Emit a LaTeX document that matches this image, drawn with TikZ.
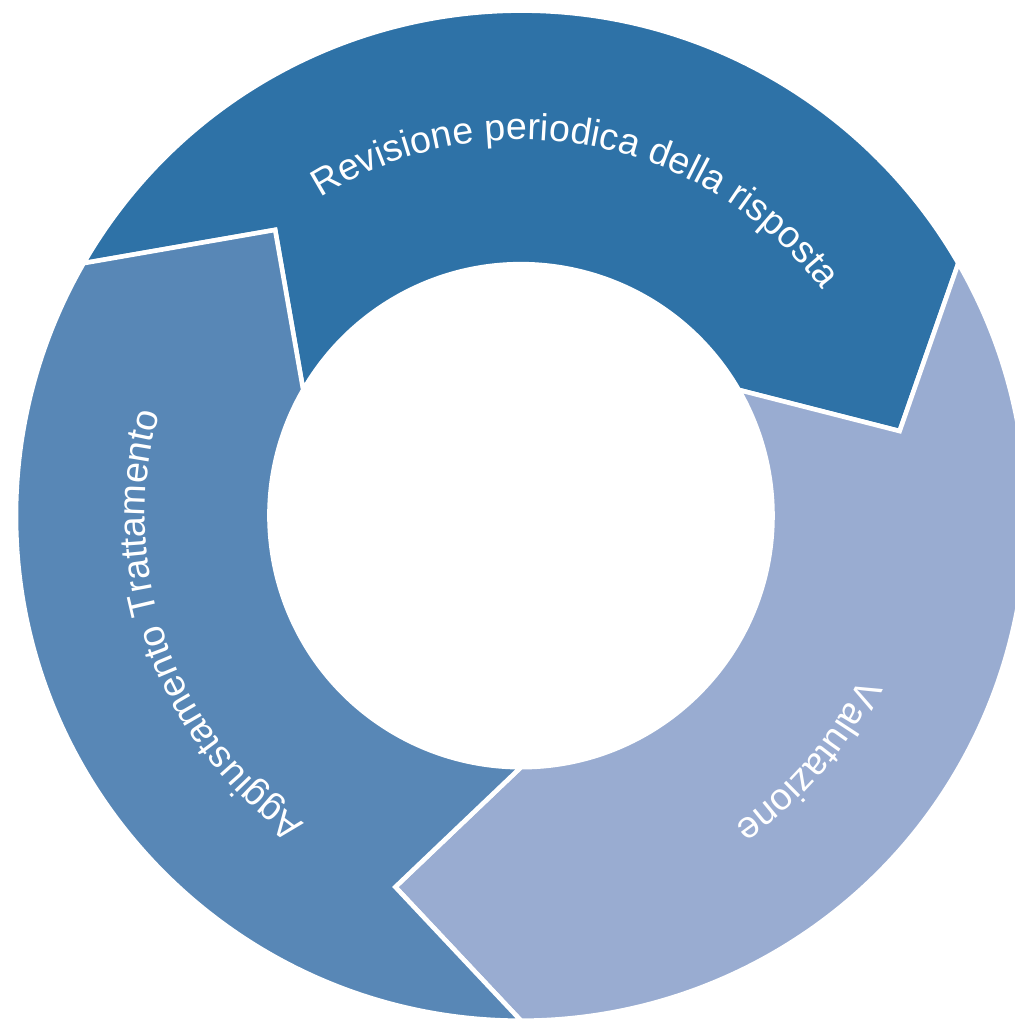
\documentclass[tikz,border=0pt]{standalone}
\usepackage{fontspec}
\setmainfont{Liberation Sans}
\usepackage{tikz}
\usetikzlibrary{decorations.text}

\definecolor{revblue}{RGB}{46,114,167}
\definecolor{valblue}{RGB}{153,172,209}
\definecolor{aggblue}{RGB}{88,135,182}
\newcommand{\segfont}{\fontsize{21.4}{25}\selectfont}

\begin{document}
\begin{tikzpicture}[
    segment/.style={fill=#1, draw=white, line width=2.6pt, line join=miter},
    seglabel/.style={decorate, decoration={text along path, text align=center, text color=white, text={|\segfont|#1}}}
  ]
  \useasboundingbox (-10.42,-10.066) rectangle (9.88,10.314);
  % arrow tips of the ring segments
  \coordinate (revtip) at (12.6:7.76);
  \coordinate (valtip) at (-108.7:7.84);
  \coordinate (aggtip) at (130.7:7.54);
  % ring segments, clockwise from the top
  \foreach \a/\col/\tip/\notch in {150/revblue/revtip/aggtip, 30/valblue/valtip/revtip, -90/aggblue/aggtip/valtip}
    \draw[segment=\col] (\a:10.1) arc[start angle=\a, end angle=\a-120, radius=10.1]
      -- (\tip) -- (\a-120:5.03)
      arc[start angle=\a-120, end angle=\a, radius=5.03]
      -- (\notch) -- cycle;
  % labels along the ring
  \path[seglabel={Revisione periodica della risposta}] (159.5:7.52) arc[start angle=159.5, end angle=-0.5, radius=7.52];
  \path[seglabel={Valutazione}] (39.5:7.52) arc[start angle=39.5, end angle=-120.5, radius=7.52];
  \path[seglabel={Aggiustamento Trattamento}] (-80.5:7.52) arc[start angle=-80.5, end angle=-240.5, radius=7.52];
\end{tikzpicture}
\end{document}
